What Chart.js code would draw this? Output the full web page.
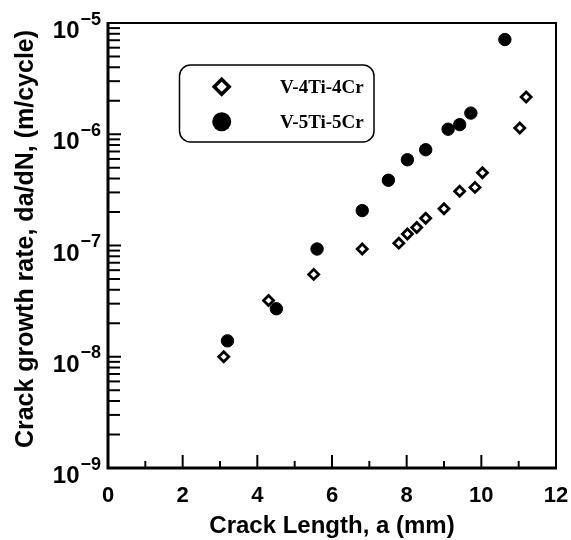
<!DOCTYPE html>
<html><head><meta charset="utf-8">
<style>html,body{margin:0;padding:0;background:#fff;}#wrap{width:571px;height:540px;}</style>
<script src="https://cdn.jsdelivr.net/npm/chart.js@4/dist/chart.umd.min.js"></script>
</head><body><div id="wrap"><canvas id="c" width="571" height="540"></canvas></div>
<script>
const seriesNames = ['V-4Ti-4Cr', 'V-5Ti-5Cr'];
const crackA_4Ti = [3.10, 4.30, 5.51, 6.81, 7.79, 8.02, 8.27, 8.51, 9.00, 9.42, 9.83, 10.03, 11.03, 11.20];
const rate_4Ti = [1.0e-8, 3.2e-8, 5.5e-8, 9.3e-8, 1.05e-7, 1.27e-7, 1.45e-7, 1.76e-7, 2.14e-7, 3.08e-7, 3.33e-7, 4.5e-7, 1.14e-6, 2.16e-6];
const crackA_5Ti = [3.20, 4.51, 5.60, 6.81, 7.51, 8.02, 8.51, 9.11, 9.42, 9.72, 10.63];
const rate_5Ti = [1.39e-8, 2.7e-8, 9.3e-8, 2.06e-7, 3.86e-7, 5.9e-7, 7.26e-7, 1.11e-6, 1.22e-6, 1.55e-6, 7.1e-6];
const xTickLabels = [0, 2, 4, 6, 8, 10, 12];
const xMinorTicks = [1, 3, 5, 7, 9, 11];
const yDecadeExponents = [-9, -8, -7, -6, -5];
const yMinorMultipliers = [2, 3, 4, 5, 6, 7, 8, 9];
const xTitle = 'Crack Length, a (mm)';
const yTitle = 'Crack growth rate, da/dN, (m/cycle)';

const SANS = '"Liberation Sans", Arial, Helvetica, sans-serif';
const SERIF = '"Liberation Serif", "Times New Roman", serif';

function pts(xs, ys) { return xs.map((x, i) => ({ x: x, y: ys[i] })); }

const framePlugin = {
  id: 'frame',
  afterDraw(chart) {
    const ctx = chart.ctx;
    const xs = chart.scales.x, ys = chart.scales.y;
    const L = xs.getPixelForValue(xs.min), R = xs.getPixelForValue(xs.max);
    const T = ys.getPixelForValue(ys.max), B = ys.getPixelForValue(ys.min);
    ctx.save();
    ctx.strokeStyle = '#000';
    ctx.lineCap = 'butt';
    // top & right border
    ctx.lineWidth = 2;
    ctx.beginPath();
    ctx.moveTo(L, T); ctx.lineTo(R, T); ctx.lineTo(R, B);
    ctx.stroke();
    // left & bottom axes
    ctx.lineWidth = 3;
    ctx.beginPath();
    ctx.moveTo(L, T - 1); ctx.lineTo(L, B); ctx.lineTo(R + 1, B);
    ctx.stroke();
    // y ticks (inward)
    ctx.lineWidth = 2;
    yDecadeExponents.forEach((e, k) => {
      const yv = Math.pow(10, e);
      const py = ys.getPixelForValue(yv);
      if (k > 0 && k < yDecadeExponents.length - 1) {
        ctx.beginPath(); ctx.moveTo(L, py); ctx.lineTo(L + 13, py); ctx.stroke();
      }
      if (k < yDecadeExponents.length - 1) {
        yMinorMultipliers.forEach(m => {
          const p = ys.getPixelForValue(m * yv);
          ctx.beginPath(); ctx.moveTo(L, p); ctx.lineTo(L + 12, p); ctx.stroke();
        });
      }
    });
    // x ticks (inward)
    xTickLabels.forEach(v => {
      const px = xs.getPixelForValue(v);
      ctx.beginPath(); ctx.moveTo(px, B); ctx.lineTo(px, B - 13); ctx.stroke();
    });
    xMinorTicks.forEach(v => {
      const px = xs.getPixelForValue(v);
      ctx.beginPath(); ctx.moveTo(px, B); ctx.lineTo(px, B - 7); ctx.stroke();
    });
    // x tick labels
    ctx.fillStyle = '#000';
    ctx.font = 'bold 22px ' + SANS;
    ctx.textAlign = 'center';
    ctx.textBaseline = 'alphabetic';
    xTickLabels.forEach(v => {
      ctx.fillText(String(v), xs.getPixelForValue(v), 502);
    });
    // y tick labels 10^n
    yDecadeExponents.forEach(e => {
      const py = ys.getPixelForValue(Math.pow(10, e));
      const base = py + 15;
      ctx.font = 'bold 24px ' + SANS;
      ctx.textAlign = 'right';
      ctx.fillText('10', 79.5, base);
      ctx.font = 'bold 18px ' + SANS;
      ctx.textAlign = 'left';
      ctx.fillText('\u2212' + String(Math.abs(e)), 80.5, base - 13.5);
    });
    // axis titles
    ctx.font = 'bold 24px ' + SANS;
    ctx.textAlign = 'center';
    ctx.fillText(xTitle, (L + R) / 2, 533);
    ctx.save();
    ctx.translate(33, 239);
    ctx.rotate(-Math.PI / 2);
    ctx.font = 'bold 25px ' + SANS;
    ctx.fillText(yTitle, 0, 0);
    ctx.restore();
    // legend
    const bx = 179.5, by = 65, bw = 194.5, bh = 77, r = 11;
    ctx.lineWidth = 1.5;
    ctx.beginPath();
    ctx.moveTo(bx + r, by);
    ctx.lineTo(bx + bw - r, by); ctx.arcTo(bx + bw, by, bx + bw, by + r, r);
    ctx.lineTo(bx + bw, by + bh - r); ctx.arcTo(bx + bw, by + bh, bx + bw - r, by + bh, r);
    ctx.lineTo(bx + r, by + bh); ctx.arcTo(bx, by + bh, bx, by + bh - r, r);
    ctx.lineTo(bx, by + r); ctx.arcTo(bx, by, bx + r, by, r);
    ctx.closePath();
    ctx.fillStyle = '#fff';
    ctx.fill();
    ctx.stroke();
    // legend diamond
    const dx = 221.7, dy = 86.7, d = 7.5;
    ctx.lineWidth = 3.5;
    ctx.lineJoin = 'miter';
    ctx.beginPath();
    ctx.moveTo(dx - d, dy); ctx.lineTo(dx, dy - d); ctx.lineTo(dx + d, dy); ctx.lineTo(dx, dy + d);
    ctx.closePath();
    ctx.stroke();
    // legend circle
    ctx.fillStyle = '#000';
    ctx.beginPath();
    ctx.arc(221.7, 121.7, 9.5, 0, Math.PI * 2);
    ctx.fill();
    ctx.font = 'bold 19px ' + SERIF;
    ctx.textAlign = 'left';
    ctx.fillText(chart.data.datasets[0].label, 280, 93.3);
    ctx.fillText(chart.data.datasets[1].label, 280, 128.3);
    ctx.restore();
  }
};

new Chart(document.getElementById('c'), {
  type: 'scatter',
  data: {
    datasets: [
      {
        label: seriesNames[0],
        data: pts(crackA_4Ti, rate_4Ti),
        pointStyle: 'rectRot',
        pointRadius: 5,
        pointBorderWidth: 2.8,
        borderColor: '#000',
        backgroundColor: '#fff',
        pointBackgroundColor: '#fff',
        pointBorderColor: '#000'
      },
      {
        label: seriesNames[1],
        data: pts(crackA_5Ti, rate_5Ti),
        pointStyle: 'circle',
        pointRadius: 6.2,
        pointBorderWidth: 1,
        borderColor: '#000',
        backgroundColor: '#000',
        pointBackgroundColor: '#000',
        pointBorderColor: '#000'
      }
    ]
  },
  options: {
    responsive: false,
    animation: false,
    devicePixelRatio: 1,
    layout: { padding: { left: 108, top: 23, right: 15, bottom: 72 } },
    scales: {
      x: { type: 'linear', min: 0, max: 12, display: false },
      y: { type: 'logarithmic', min: 1e-9, max: 1e-5, display: false }
    },
    plugins: { legend: { display: false }, tooltip: { enabled: false } }
  },
  plugins: [framePlugin]
});
</script>
</body></html>
